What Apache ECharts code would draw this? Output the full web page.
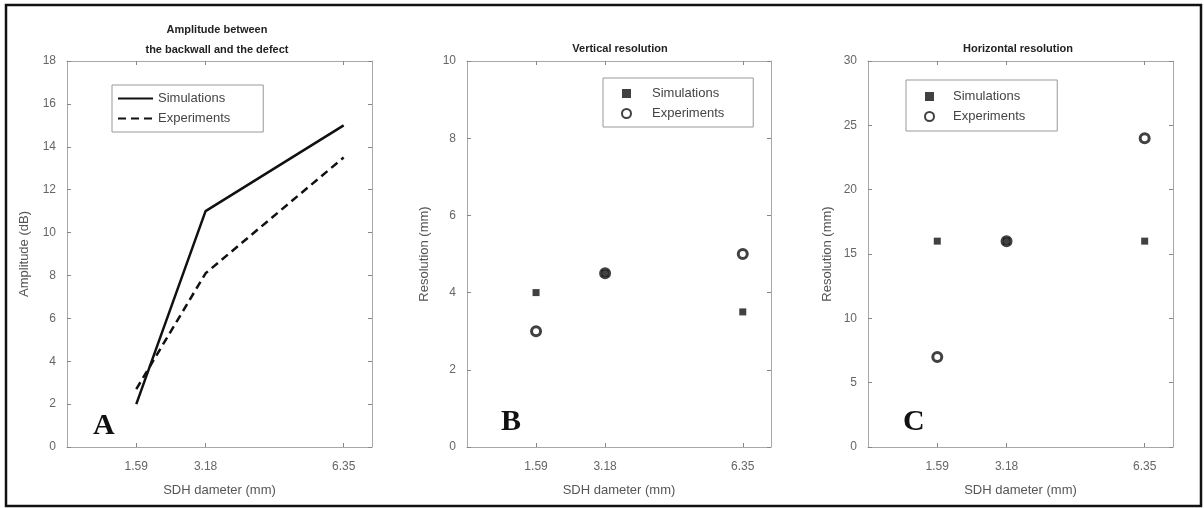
<!DOCTYPE html>
<html>
<head>
<meta charset="utf-8">
<script src="https://cdn.jsdelivr.net/npm/echarts@6/dist/echarts.min.js"></script>
<style>
  html, body { margin: 0; padding: 0; background: #fff; }
  #chart { width: 1204px; height: 508px; }
</style>
</head>
<body>
<div id="chart"></div>
<script>
// SDH diameters (mm) and the tick labels shown on every x axis
const diameters = [1.59, 3.18, 6.35];
const xTicks = [1.59, 3.18, 6.35];

// panel A: amplitude between backwall and defect (dB)
const ampSim = [2, 11, 15];
const ampExp = [2.7, 8.1, 13.5];

// panel B: vertical resolution (mm)
const vertSim = [4, 4.5, 3.5];
const vertExp = [3, 4.5, 5];

// panel C: horizontal resolution (mm)
const horzSim = [16, 16, 16];
const horzExp = [7, 16, 24];

const pair = (xs, ys) => xs.map((x, i) => [x, ys[i]]);

const grids = [
  { left: 67, top: 61, width: 305, height: 386 },
  { left: 467, top: 61, width: 304, height: 386 },
  { left: 868, top: 61, width: 305, height: 386 }
];
const yRanges = [
  { max: 18, interval: 2, name: 'Amplitude (dB)', gap: 36 },
  { max: 10, interval: 2, name: 'Resolution (mm)', gap: 36 },
  { max: 30, interval: 5, name: 'Resolution (mm)', gap: 34 }
];

const axisGrey = '#a8a8a8';
const labelGrey = '#666';
const font = 'Liberation Sans, Arial, sans-serif';

let xAxes = [], yAxes = [];
grids.forEach((g, i) => {
  xAxes.push({
    type: 'value', gridIndex: i, min: 0, max: 7, position: 'bottom',
    name: 'SDH dameter (mm)', nameLocation: 'middle', nameGap: 37,
    nameTextStyle: { color: '#555', fontSize: 13, fontFamily: font },
    axisLine: { show: true, onZero: false, lineStyle: { color: axisGrey } },
    axisTick: { show: true, inside: true, length: 4, customValues: xTicks, lineStyle: { color: '#888' } },
    axisLabel: { customValues: xTicks, color: labelGrey, fontSize: 12, margin: 14, fontFamily: font },
    splitLine: { show: false }
  });
});
grids.forEach((g, i) => {
  xAxes.push({
    type: 'value', gridIndex: i, min: 0, max: 7, position: 'top',
    axisLine: { show: true, onZero: false, lineStyle: { color: axisGrey } },
    axisTick: { show: true, inside: true, length: 4, customValues: xTicks, lineStyle: { color: '#888' } },
    axisLabel: { show: false },
    splitLine: { show: false }
  });
});
yRanges.forEach((r, i) => {
  yAxes.push({
    type: 'value', gridIndex: i, min: 0, max: r.max, interval: r.interval, position: 'left',
    name: r.name, nameLocation: 'middle', nameGap: r.gap, nameRotate: 90,
    nameTextStyle: { color: '#555', fontSize: 13, fontFamily: font },
    axisLine: { show: true, onZero: false, lineStyle: { color: axisGrey } },
    axisTick: { show: true, inside: true, length: 4, lineStyle: { color: '#888' } },
    axisLabel: { color: labelGrey, fontSize: 12, margin: 11, fontFamily: font },
    splitLine: { show: false }
  });
});
yRanges.forEach((r, i) => {
  yAxes.push({
    type: 'value', gridIndex: i, min: 0, max: r.max, interval: r.interval, position: 'right',
    axisLine: { show: true, onZero: false, lineStyle: { color: axisGrey } },
    axisTick: { show: true, inside: true, length: 4, lineStyle: { color: '#888' } },
    axisLabel: { show: false },
    splitLine: { show: false }
  });
});

const titleStyle = { fontSize: 11, fontWeight: 'bold', color: '#222', fontFamily: font, lineHeight: 20 };
const letterStyle = { fontSize: 30, fontWeight: 'bold', color: '#111', fontFamily: 'Liberation Serif, Times New Roman, serif' };

const legendBase = {
  orient: 'vertical', selectedMode: false, backgroundColor: '#fff',
  borderColor: '#999', borderWidth: 1, borderRadius: 0, itemGap: 7,
  textStyle: { color: '#444', fontSize: 13, fontFamily: font },
  formatter: name => name.split('|')[0]
};

const option = {
  animation: false,
  backgroundColor: '#fff',
  title: [
    { text: 'Amplitude between\nthe backwall and the defect', left: 212, top: 15, textAlign: 'center', textStyle: titleStyle },
    { text: 'Vertical resolution', left: 615, top: 34, textAlign: 'center', textStyle: titleStyle },
    { text: 'Horizontal resolution', left: 1013, top: 34, textAlign: 'center', textStyle: titleStyle },
    { text: 'A', left: 88, top: 406, textStyle: letterStyle },
    { text: 'B', left: 496, top: 402, textStyle: letterStyle },
    { text: 'C', left: 898, top: 402, textStyle: letterStyle }
  ],
  legend: [
    Object.assign({}, legendBase, {
      left: 112, top: 85, padding: [7, 33, 7, 5], itemWidth: 35, itemHeight: 12,
      itemStyle: { opacity: 0 },
      data: ['Simulations|A', 'Experiments|A']
    }),
    Object.assign({}, legendBase, {
      left: 603, top: 78, padding: [9, 29, 7, 18], itemWidth: 9, itemHeight: 9,
      textStyle: Object.assign({}, legendBase.textStyle, { padding: [0, 0, 0, 16] }),
      data: ['Simulations|B', 'Experiments|B']
    }),
    Object.assign({}, legendBase, {
      left: 906, top: 80, padding: [10, 32, 8, 18], itemWidth: 9, itemHeight: 9,
      textStyle: Object.assign({}, legendBase.textStyle, { padding: [0, 0, 0, 14] }),
      data: ['Simulations|C', 'Experiments|C']
    })
  ],
  grid: grids,
  xAxis: xAxes,
  yAxis: yAxes,
  graphic: [
    {
      type: 'rect', silent: true, z: 100,
      shape: { x: 6, y: 5, width: 1195, height: 501 },
      style: { fill: 'none', stroke: '#111', lineWidth: 2.5 }
    }
  ],
  series: [
    {
      name: 'Simulations|A', type: 'line', xAxisIndex: 0, yAxisIndex: 0,
      data: pair(diameters, ampSim), symbol: 'none',
      lineStyle: { color: '#111', width: 2.5, type: 'solid' }, itemStyle: { color: '#111' }
    },
    {
      name: 'Experiments|A', type: 'line', xAxisIndex: 0, yAxisIndex: 0,
      data: pair(diameters, ampExp), symbol: 'none',
      lineStyle: { color: '#111', width: 2.5, type: [8, 5] }, itemStyle: { color: '#111' }
    },
    {
      name: 'Experiments|B', type: 'scatter', xAxisIndex: 1, yAxisIndex: 1,
      data: pair(diameters, vertExp), symbol: 'circle', symbolSize: 9, z: 2,
      itemStyle: { color: 'rgba(255,255,255,0)', borderColor: '#111', borderWidth: 3 }
    },
    {
      name: 'Simulations|B', type: 'scatter', xAxisIndex: 1, yAxisIndex: 1,
      data: pair(diameters, vertSim), symbol: 'rect', symbolSize: 7, z: 3,
      itemStyle: { color: '#111' }
    },
    {
      name: 'Experiments|C', type: 'scatter', xAxisIndex: 2, yAxisIndex: 2,
      data: pair(diameters, horzExp), symbol: 'circle', symbolSize: 9, z: 2,
      itemStyle: { color: 'rgba(255,255,255,0)', borderColor: '#111', borderWidth: 3 }
    },
    {
      name: 'Simulations|C', type: 'scatter', xAxisIndex: 2, yAxisIndex: 2,
      data: pair(diameters, horzSim), symbol: 'rect', symbolSize: 7, z: 3,
      itemStyle: { color: '#111' }
    }
  ]
};

const chart = echarts.init(document.getElementById('chart'), null, { renderer: 'canvas' });
chart.setOption(option);
</script>
</body>
</html>
